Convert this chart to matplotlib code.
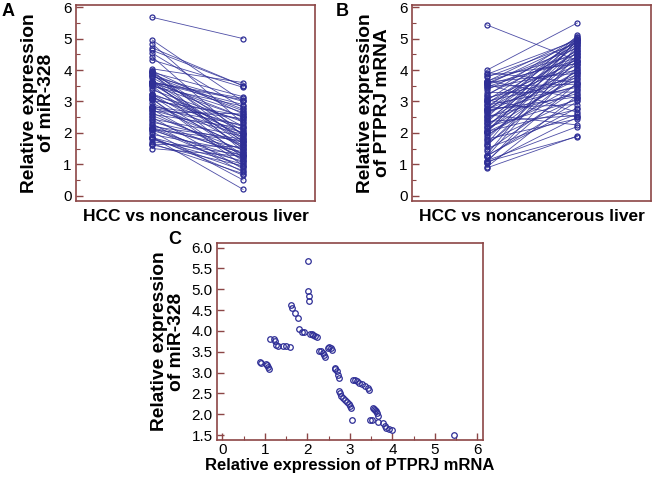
import numpy as np
import matplotlib.pyplot as plt
from matplotlib.ticker import MultipleLocator

plt.rcParams['font.family'] = ['Liberation Sans', 'DejaVu Sans']

# -------------------------------
# Données
# -------------------------------
# PTPRJ mRNA dans le CHC (axe x du panneau C, colonne gauche du panneau B)
ptprj_hcc = [0.88, 0.90, 1.03, 1.05, 1.08, 1.10, 1.11, 1.22, 1.25, 1.27,
             1.30, 1.42, 1.50, 1.58, 1.62, 1.63, 1.70, 1.78, 1.80, 1.88,
             1.93, 2.01, 2.02, 2.03, 2.04, 2.06, 2.10, 2.14, 2.18, 2.23,
             2.28, 2.32, 2.36, 2.40, 2.42, 2.48, 2.51, 2.55, 2.58, 2.64,
             2.66, 2.69, 2.72, 2.74, 2.75, 2.77, 2.79, 2.84, 2.88, 2.93,
             2.97, 3.00, 3.02, 3.05, 3.07, 3.12, 3.17, 3.22, 3.28, 3.36,
             3.42, 3.46, 3.48, 3.53, 3.54, 3.56, 3.58, 3.61, 3.63, 3.65,
             3.66, 3.77, 3.82, 3.86, 3.92, 3.99, 5.44]
# miR-328 dans le CHC (axe y du panneau C, colonne gauche du panneau A)
mir328_hcc = [3.25, 3.23, 3.20, 3.18, 3.14, 3.08, 3.81, 3.80, 3.76, 3.66,
              3.63, 3.63, 3.63, 3.61, 4.63, 4.54, 4.43, 4.32, 4.04, 3.98,
              3.98, 5.68, 4.96, 4.84, 4.71, 3.93, 3.93, 3.90, 3.87, 3.85,
              3.51, 3.51, 3.48, 3.42, 3.37, 3.60, 3.61, 3.59, 3.55, 3.10,
              3.08, 3.03, 2.95, 2.87, 2.55, 2.50, 2.44, 2.40, 2.34, 2.29,
              2.25, 2.20, 2.16, 1.86, 2.83, 2.82, 2.79, 2.75, 2.72, 2.68,
              2.64, 2.59, 1.86, 1.85, 2.16, 2.13, 2.10, 2.08, 2.04, 1.95,
              1.82, 1.79, 1.72, 1.66, 1.64, 1.62, 1.50]
# tissu hépatique non cancéreux (colonnes droites des panneaux A et B)
mir328_normal = [2.10, 1.60, 2.40, 1.30, 2.00, 1.10, 2.70, 3.00, 2.20, 1.80,
                 2.90, 1.50, 2.50, 3.10, 3.50, 2.80, 1.90, 3.45, 3.60, 2.60,
                 1.70, 5.00, 3.00, 2.30, 3.50, 2.05, 3.15, 1.40, 2.75, 1.95,
                 2.50, 1.20, 2.85, 1.75, 2.35, 3.05, 1.65, 2.65, 1.85, 2.20,
                 0.95, 2.55, 1.55, 2.00, 1.45, 0.85, 1.90, 1.25, 1.70, 0.75,
                 1.35, 1.80, 1.05, 0.20, 2.45, 1.60, 2.25, 1.15, 1.95, 2.60,
                 1.30, 2.15, 0.65, 1.10, 1.50, 0.90, 1.75, 1.20, 0.50, 1.40,
                 0.80, 1.00, 1.30, 0.70, 1.55, 0.95, 1.25]
ptprj_normal = [1.90, 3.20, 2.50, 4.10, 1.88, 3.60, 2.20, 4.50, 3.00, 2.80,
                4.80, 3.40, 2.60, 4.30, 3.90, 5.00, 3.10, 4.60, 2.45, 4.00,
                3.55, 4.95, 3.35, 4.40, 2.75, 4.70, 3.80, 5.05, 3.05, 4.20,
                3.70, 4.85, 2.55, 4.45, 3.95, 5.10, 3.25, 4.65, 2.25, 4.05,
                3.50, 4.90, 3.15, 4.35, 3.85, 5.00, 2.90, 4.55, 3.45, 4.75,
                4.15, 3.65, 4.95, 2.50, 4.25, 3.75, 5.05, 4.60, 3.30, 4.80,
                4.00, 4.40, 3.55, 4.90, 4.30, 2.65, 4.70, 3.90, 5.00, 4.50,
                3.10, 4.85, 4.20, 4.95, 3.60, 5.50, 4.30]

# -------------------------------
# Style
# -------------------------------
spine_col = '#8c4646'
blue = '#2e2e96'
W, H = 653, 478


def style_axes(ax):
    for s in ax.spines.values():
        s.set_color(spine_col)
        s.set_linewidth(1.2)
    ax.tick_params(axis='y', direction='in', color=spine_col, length=5,
                   width=1, labelsize=11, pad=3)
    ax.tick_params(axis='y', which='minor', direction='in', color=spine_col,
                   length=3, width=0.8)


def paired(ax, left, right):
    for a, b in zip(left, right):
        ax.plot([0, 1], [a, b], color=blue, lw=0.6, alpha=0.85)
    ax.plot(np.zeros(len(left)), left, 'o', mfc='none', mec=blue, ms=3.6, mew=0.9)
    ax.plot(np.ones(len(right)), right, 'o', mfc='none', mec=blue, ms=3.6, mew=0.9)


ylab_kw = dict(fontsize=13.8, fontweight='bold', linespacing=1.0)

fig = plt.figure(figsize=(W / 100, H / 100), dpi=100)

# Panneau A
axA = fig.add_axes([76 / W, 1 - 201 / H, 239 / W, 196 / H])
paired(axA, mir328_hcc, mir328_normal)
axA.set_xlim(-0.835, 1.79)
axA.set_ylim(-0.17, 6.07)
axA.set_xticks([])
axA.yaxis.set_major_locator(MultipleLocator(1))
axA.yaxis.set_minor_locator(MultipleLocator(0.5))
style_axes(axA)
axA.set_ylabel('Relative expression\nof miR-328', labelpad=6, **ylab_kw)
axA.set_xlabel('HCC vs noncancerous liver', fontsize=12.5,
               fontweight='bold', labelpad=6)
fig.text(2 / W, 1 - 16 / H, 'A', fontsize=13, fontweight='bold')

# Panneau B
axB = fig.add_axes([412 / W, 1 - 201 / H, 239 / W, 196 / H])
paired(axB, ptprj_hcc, ptprj_normal)
axB.set_xlim(-0.82, 1.81)
axB.set_ylim(-0.17, 6.07)
axB.set_xticks([])
axB.yaxis.set_major_locator(MultipleLocator(1))
axB.yaxis.set_minor_locator(MultipleLocator(0.5))
style_axes(axB)
axB.set_ylabel('Relative expression\nof PTPRJ mRNA', labelpad=6, **ylab_kw)
axB.set_xlabel('HCC vs noncancerous liver', fontsize=12.5,
               fontweight='bold', labelpad=6)
fig.text(336 / W, 1 - 16 / H, 'B', fontsize=13, fontweight='bold')

# Panneau C
axC = fig.add_axes([217 / W, 1 - 440 / H, 266 / W, 197 / H])
axC.plot(ptprj_hcc, mir328_hcc, 'o', mfc='none', mec=blue, ms=4, mew=0.9)
axC.set_xlim(-0.125, 6.13)
axC.set_ylim(1.38, 6.11)
axC.xaxis.set_major_locator(MultipleLocator(1))
axC.xaxis.set_minor_locator(MultipleLocator(0.5))
axC.yaxis.set_major_locator(MultipleLocator(0.5))
axC.yaxis.set_major_formatter('{x:.1f}')
style_axes(axC)
axC.tick_params(axis='x', direction='in', color=spine_col, length=5,
                width=1, labelsize=11, pad=2)
axC.tick_params(axis='x', which='minor', direction='in', color=spine_col,
                length=3, width=0.8)
axC.set_ylabel('Relative expression\nof miR-328', labelpad=5, **ylab_kw)
axC.set_xlabel('Relative expression of PTPRJ mRNA', fontsize=12,
               fontweight='bold', labelpad=1)
fig.text(168 / W, 1 - 244 / H, 'C', fontsize=13, fontweight='bold')

fig.savefig('out.png', dpi=100)
